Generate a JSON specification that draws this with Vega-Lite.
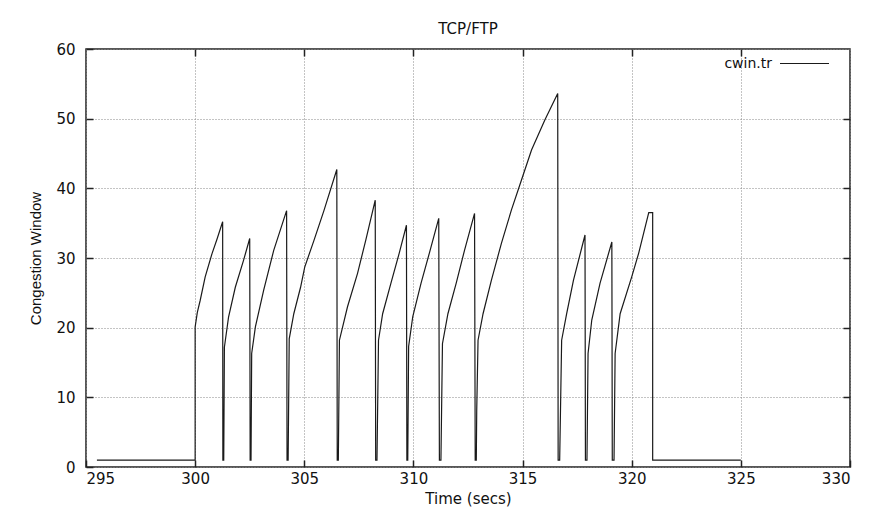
{
  "$schema": "https://vega.github.io/schema/vega-lite/v6.json",
  "width": 764,
  "height": 418,
  "autosize": {"type": "none"},
  "padding": {"left": 86, "top": 49, "right": 19, "bottom": 43},
  "background": "white",
  "title": {"text": "TCP/FTP", "font": "DejaVu Sans", "fontSize": 15, "fontWeight": "normal", "color": "#111", "offset": 8, "dy": 7},
  "config": {
    "view": {"stroke": "#222", "strokeWidth": 1.5},
    "axis": {"labelFont": "DejaVu Sans", "labelFontSize": 15, "labelColor": "#111", "titleColor": "#111", "titleFontWeight": "normal", "domain": false, "tickColor": "#222", "tickWidth": 1.5, "gridColor": "#888", "gridDash": [1, 2], "gridWidth": 1}
  },
  "data": {"values": [
    {"t": 295.5, "v": 1}, {"t": 300, "v": 1}, {"t": 300, "v": 20.1}, {"t": 300.1, "v": 22.2}, {"t": 300.23, "v": 23.9}, {"t": 300.46, "v": 27.3}, {"t": 300.77, "v": 30.6}, {"t": 301.0, "v": 32.7}, {"t": 301.26, "v": 35.2},
    {"t": 301.27, "v": 1}, {"t": 301.31, "v": 1}, {"t": 301.34, "v": 17.2}, {"t": 301.53, "v": 21.5}, {"t": 301.84, "v": 25.8}, {"t": 302.22, "v": 29.7}, {"t": 302.5, "v": 32.8},
    {"t": 302.52, "v": 1}, {"t": 302.56, "v": 1}, {"t": 302.59, "v": 16.3}, {"t": 302.76, "v": 20.1}, {"t": 303.14, "v": 25.4}, {"t": 303.6, "v": 31.1}, {"t": 304.19, "v": 36.8},
    {"t": 304.21, "v": 1}, {"t": 304.26, "v": 1}, {"t": 304.31, "v": 18.4}, {"t": 304.52, "v": 22.0}, {"t": 304.83, "v": 25.8}, {"t": 305.02, "v": 28.7}, {"t": 305.44, "v": 32.5}, {"t": 305.9, "v": 36.8}, {"t": 306.49, "v": 42.7},
    {"t": 306.51, "v": 1}, {"t": 306.56, "v": 1}, {"t": 306.61, "v": 18.2}, {"t": 306.98, "v": 23.0}, {"t": 307.44, "v": 27.8}, {"t": 307.82, "v": 32.6}, {"t": 308.25, "v": 38.3},
    {"t": 308.27, "v": 1}, {"t": 308.33, "v": 1}, {"t": 308.4, "v": 18.2}, {"t": 308.59, "v": 22.0}, {"t": 308.97, "v": 26.4}, {"t": 309.35, "v": 30.7}, {"t": 309.68, "v": 34.7},
    {"t": 309.7, "v": 1}, {"t": 309.74, "v": 1}, {"t": 309.78, "v": 17.3}, {"t": 309.97, "v": 21.6}, {"t": 310.35, "v": 26.4}, {"t": 310.73, "v": 30.7}, {"t": 311.16, "v": 35.7},
    {"t": 311.19, "v": 1}, {"t": 311.26, "v": 1}, {"t": 311.33, "v": 17.7}, {"t": 311.58, "v": 22.0}, {"t": 311.96, "v": 26.4}, {"t": 312.34, "v": 31.1}, {"t": 312.8, "v": 36.4},
    {"t": 312.83, "v": 1}, {"t": 312.88, "v": 1}, {"t": 312.9, "v": 8.2}, {"t": 312.96, "v": 18.2}, {"t": 313.19, "v": 22.0}, {"t": 313.57, "v": 26.8}, {"t": 314.03, "v": 32.1}, {"t": 314.49, "v": 36.9}, {"t": 314.95, "v": 41.2}, {"t": 315.41, "v": 45.5}, {"t": 316.02, "v": 49.8}, {"t": 316.61, "v": 53.6},
    {"t": 316.63, "v": 1}, {"t": 316.7, "v": 1}, {"t": 316.79, "v": 18.2}, {"t": 317.02, "v": 22.0}, {"t": 317.33, "v": 26.8}, {"t": 317.86, "v": 33.3},
    {"t": 317.88, "v": 1}, {"t": 317.95, "v": 1}, {"t": 318.0, "v": 16.3}, {"t": 318.17, "v": 21.1}, {"t": 318.55, "v": 26.4}, {"t": 319.09, "v": 32.3},
    {"t": 319.11, "v": 1}, {"t": 319.19, "v": 1}, {"t": 319.24, "v": 16.3}, {"t": 319.47, "v": 22.0}, {"t": 320.0, "v": 27.3}, {"t": 320.32, "v": 30.7}, {"t": 320.78, "v": 36.5}, {"t": 320.96, "v": 36.5},
    {"t": 320.96, "v": 1}, {"t": 325.0, "v": 1}
  ]},
  "layer": [
    {
      "mark": {"type": "line", "strokeWidth": 1.2, "interpolate": "linear"},
      "encoding": {
        "x": {"field": "t", "type": "quantitative", "scale": {"domain": [295, 330], "nice": false, "zero": false},
              "axis": {"values": [295, 300, 305, 310, 315, 320, 325, 330], "title": "Time (secs)", "titleFont": "DejaVu Sans", "titleFontSize": 15, "titlePadding": 5, "tickSize": -7, "labelPadding": 11}},
        "y": {"field": "v", "type": "quantitative", "scale": {"domain": [0, 60], "nice": false},
              "axis": {"values": [0, 10, 20, 30, 40, 50, 60], "title": "Congestion Window", "titleFont": "Liberation Sans", "titleFontSize": 15, "titlePadding": 12, "tickSize": -7, "labelPadding": 18}},
        "order": {"value": null},
        "color": {"datum": "cwin.tr", "type": "nominal", "scale": {"range": ["#1a1a1a"]},
                  "legend": {"title": null, "orient": "none", "legendX": 693, "legendY": -11, "padding": 0, "symbolType": "stroke", "symbolSize": 2401, "symbolStrokeWidth": 1.2, "labelAlign": "right", "labelOffset": -58, "labelFont": "DejaVu Sans", "labelFontSize": 14, "labelColor": "#111"}}
      }
    },
    {
      "mark": {"type": "point", "opacity": 0},
      "encoding": {
        "x": {"field": "t", "type": "quantitative", "axis": {"orient": "top", "values": [300, 305, 310, 315, 320, 325], "labels": false, "title": null, "grid": false, "tickSize": -7}},
        "y": {"field": "v", "type": "quantitative", "axis": {"orient": "right", "values": [10, 20, 30, 40, 50], "labels": false, "title": null, "grid": false, "tickSize": -7}}
      }
    }
  ],
  "resolve": {"axis": {"x": "independent", "y": "independent"}}
}
